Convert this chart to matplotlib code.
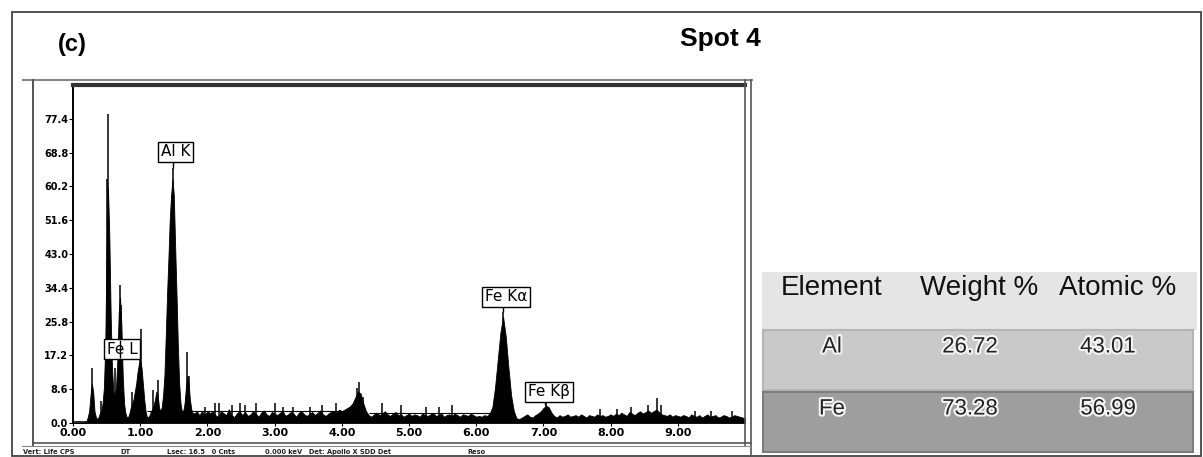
import numpy as np
import matplotlib
matplotlib.use("Agg")
import matplotlib.pyplot as plt
from matplotlib.patches import Rectangle
from matplotlib.lines import Line2D
import matplotlib.patheffects as pe

# ---------------- data ----------------
panel_label = "(c)"
title = "Spot 4"

# spectrum counts, 0.00-2.00 keV (0.02 keV channels)
counts_low = [0, 0, 0, 0, 0, 0, 0, 0, 0, 0, 0.5,
              1.5, 3, 7, 10, 8, 3, 1.5, 1.0, 1.5, 2.5,
              3, 5, 9, 20, 45, 60, 48, 28, 14, 8,
              7, 9, 16, 28, 32, 25, 12, 5, 2.5, 1.5,
              1.5, 2.5, 4, 5, 6, 8, 10, 13, 15, 16,
              14, 10, 6, 3, 1.5, 1.5, 2, 3, 3.5, 4.5,
              6, 8, 7, 4, 3, 4, 7, 12, 22, 33,
              42, 52, 58, 62, 58, 45, 33, 20, 10, 5,
              3, 3, 5, 9, 12, 10, 6, 3.5, 2.5, 2.5,
              2.5, 3, 2.5, 2, 2.5, 3, 2.5, 2, 2.5, 3]
# spectrum counts, 2.04-10.00 keV (0.04 keV channels)
counts_high = [2.5, 3, 2, 1.5, 3, 2.5, 2, 3.5, 2, 1.5, 2.5, 3, 2, 2.8, 1.8, 2.2, 3, 2.4, 1.6, 2.6, 3.2, 2.2, 1.8, 2.8, 2.4,
               2, 2.6, 3, 1.8, 2.2, 2.8, 2.4, 1.6, 2.6, 3, 2.2, 1.8, 2.4, 2.8, 2, 2.6, 3.2, 2.2, 1.8, 2.4, 2.8, 3, 2.6, 3.4, 3,
               3.4, 3.8, 4.2, 5, 6.5, 8, 7.5, 5, 3, 2, 1.6, 2.2, 2.6, 2, 2.4, 3, 2.2, 1.8, 2.4, 2.8, 2, 2.2, 1.6, 2, 2.4,
               1.8, 2.2, 2, 1.6, 2.4, 2, 1.8, 2.2, 2.6, 1.8, 2, 2.4, 1.6, 2, 2.2, 1.8, 2.4, 2, 1.6, 2.2, 2, 1.8, 2.4, 2, 1.6,
               1.8, 1.6, 2, 1.8, 2.4, 4, 9, 16, 23, 27, 22, 14, 7, 3, 1.2, 1, 1.4, 1.8, 2.2, 1.6, 1.4, 2, 2.4, 3, 3.8,
               4.4, 4, 2.6, 1.8, 1.4, 2, 1.6, 1.8, 2.2, 1.6, 1.8, 2, 1.6, 2.2, 1.8, 1.4, 2, 1.8, 1.6, 2.2, 1.8, 2, 1.6, 1.8, 2.2,
               1.8, 2.4, 2, 2.6, 2.2, 1.8, 2.8, 2.4, 2, 2.6, 3, 2.4, 2.8, 3.2, 2.6, 3, 3.4, 2.8, 2.2, 2, 1.8, 2.2, 1.6, 2, 1.8,
               1.6, 2, 1.8, 1.4, 2.2, 1.8, 1.6, 2, 1.4, 1.8, 2.2, 1.6, 1.8, 2, 1.4, 1.6, 2, 1.8, 1.4, 1.6, 2, 1.8, 1.6, 1.4, 1.2]

# thin single-channel spikes (keV, counts)
spike_kev = [0.28, 0.42, 0.51, 0.52, 0.62, 0.70, 0.71, 0.88, 1.00, 1.01, 1.19, 1.26, 1.48, 1.49, 1.70, 1.72,
             1.96, 2.12, 2.18, 2.36, 2.48, 2.56, 2.72, 3.00, 3.12, 3.28, 3.52, 3.70, 3.92, 4.22, 4.26, 4.32,
             4.60, 4.88, 5.25, 5.44, 5.64, 6.40, 7.04, 7.84, 8.10, 8.30, 8.55, 8.69, 8.75, 9.25, 9.50, 9.80]
spike_cnt = [14, 5.5, 62, 78.5, 14, 35, 30, 8, 20, 24, 8.4, 11, 58, 65, 18, 12,
             4, 5, 5, 4.5, 5, 4.5, 5, 5, 4, 4, 4, 4.5, 5, 9, 10.4, 6.5,
             5, 4.5, 4, 4, 4.5, 28.3, 5, 3.5, 3.5, 4, 4.5, 6.4, 4.5, 3, 3, 3]

peak_labels = ["Al K", "Fe L", "Fe K\u03b1", "Fe K\u03b2"]
peak_label_x = [1.53, 0.73, 6.44, 7.08]
peak_label_y = [69.0, 18.8, 32.1, 7.9]

y_ticks = [0.0, 8.6, 17.2, 25.8, 34.4, 43.0, 51.6, 60.2, 68.8, 77.4]
x_ticks = [0, 1, 2, 3, 4, 5, 6, 7, 8, 9]

status_texts = ["Vert: Life CPS", "DT", "Lsec: 16.5   0 Cnts", "0.000 keV   Det: Apollo X SDD Det", "Reso"]
status_x = [23, 120, 167, 265, 467]

table_header = ["Element", "Weight %", "Atomic %"]
elements = ["Al", "Fe"]
weight_pct = ["26.72", "73.28"]
atomic_pct = ["43.01", "56.99"]

# ---------------- figure ----------------
W, H = 1203, 457
fig = plt.figure(figsize=(W / 100, H / 100), dpi=100)


def fx(px):
    return px / W


def fy(py):
    return 1 - py / H


def fline(x0, y0, x1, y1, **kw):
    fig.add_artist(Line2D([fx(x0), fx(x1)], [fy(y0), fy(y1)], transform=fig.transFigure, **kw))


# outer frame
fig.add_artist(Rectangle((fx(12), fy(456)), fx(1201) - fx(12), fy(12) - fy(456),
                         transform=fig.transFigure, fill=False, lw=1.3, edgecolor="#444444"))

fig.text(fx(72), fy(44), panel_label, ha="center", va="center", fontsize=17,
         fontweight="bold", family=["Liberation Sans", "DejaVu Sans"])
fig.text(fx(720), fy(39), title, ha="center", va="center", fontsize=19,
         fontweight="bold", family=["Liberation Sans", "DejaVu Sans"])

# spectrum window frame
fline(23, 80, 752, 80, color="#888888", lw=1.5)
fline(33, 80, 33, 445, color="#555555", lw=1.4)
fline(745, 80, 745, 445, color="#555555", lw=1.2)
fline(751, 80, 751, 457, color="#555555", lw=1.2)
fline(33, 443, 751, 443, color="#555555", lw=1.2)
fline(22, 446, 751, 446, color="#888888", lw=0.8)

for t, x in zip(status_texts, status_x):
    fig.text(fx(x), fy(452), t, ha="left", va="center", fontsize=4.8,
             fontweight="bold", color="#222222")

# spectrum axes
ax = fig.add_axes([fx(73), fy(423), fx(745) - fx(73), fy(85) - fy(423)])
e_low = np.round(np.arange(0, 2.001, 0.02), 2)
e_high = np.round(np.arange(2.04, 10.001, 0.04), 2)
energy = np.concatenate([e_low, e_high])
counts = np.array(counts_low + counts_high, dtype=float)

ax.fill_between(energy, 0, counts, color="black", lw=0.6, edgecolor="black", zorder=2)
ax.vlines(spike_kev, 0, spike_cnt, color="black", lw=1.1, zorder=2)
ax.hlines([3.0, 2.5, 0.8], [1.1, 4.4, 4.4], [4.2, 6.2, 6.2], color="black", lw=0.8, zorder=2)
ax.hlines(0.3, 0, 0.22, color="black", lw=1.2)

for lab, lx, ly in zip(peak_labels, peak_label_x, peak_label_y):
    ax.text(lx, ly, lab, ha="center", va="center", fontsize=11, color="black", zorder=5,
            bbox=dict(boxstyle="square,pad=0.18", facecolor="white", edgecolor="black", lw=1.0))
# leader lines and the spike crossing the Fe L box
ax.vlines([1.49, 6.40, 7.03], [65, 28.3, 4.6], [66.3, 29.4, 5.3], color="black", lw=1.0)
ax.vlines([0.70], [16.5], [21.0], color="black", lw=1.0, zorder=6)

ax.set_xlim(0, 10.0)
ax.set_ylim(0, 86)
ax.set_yticks(y_ticks)
ax.set_yticklabels([f"{v:.1f}" for v in y_ticks], fontsize=7, fontweight="bold")
ax.set_xticks(x_ticks)
ax.set_xticklabels([f"{v:.2f}" for v in x_ticks], fontsize=8, fontweight="bold")
ax.tick_params(axis="y", length=3, width=0.8, pad=0.5)
ax.tick_params(axis="x", length=2, width=0.8, pad=1.5)
ax.spines["bottom"].set_visible(False)
ax.spines["left"].set_linewidth(1.4)
ax.spines["top"].set_linewidth(3.0)
ax.spines["top"].set_color("#333333")
ax.spines["right"].set_visible(False)
ax.set_facecolor("white")

# ---------------- table ----------------
tfont = ["Liberation Sans", "DejaVu Sans"]
fig.add_artist(Rectangle((fx(762), fy(330)), fx(1197) - fx(762), fy(272) - fy(330),
                         transform=fig.transFigure, facecolor="#e5e5e5", edgecolor="none"))
row_tops = [330, 392]
row_colors = ["#c9c9c9", "#9e9e9e"]
row_edges = ["#b5b5b5", "#7d7d7d"]
for top, fc, ec in zip(row_tops, row_colors, row_edges):
    fig.add_artist(Rectangle((fx(763), fy(top + 60)), fx(1193) - fx(763), fy(top) - fy(top + 60),
                             transform=fig.transFigure, facecolor=fc, edgecolor=ec, lw=1.5))

header_x = [832, 979, 1118]
for t, x in zip(table_header, header_x):
    fig.text(fx(x), fy(288), t, ha="center", va="center", fontsize=20, family=tfont, color="#111111")

col_x = [832, 970, 1108]
halo = [pe.withStroke(linewidth=3, foreground="#f4f4f4")]
for i, top in enumerate(row_tops):
    vals = [elements[i], weight_pct[i], atomic_pct[i]]
    for t, x in zip(vals, col_x):
        fig.text(fx(x), fy(top + 17), t, ha="center", va="center", fontsize=16, family=tfont,
                 color="#222222", path_effects=halo)

fig.savefig("out.png", dpi=100)
